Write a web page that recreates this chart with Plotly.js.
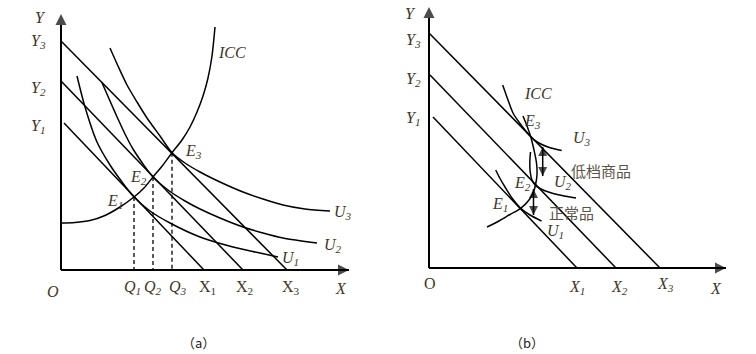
<!DOCTYPE html>
<html>
<head>
<meta charset="utf-8">
<script src="https://cdn.plot.ly/plotly-3.0.1.min.js"></script>
<style>html,body{margin:0;padding:0;background:#fff;}#chart{width:756px;height:354px;}</style>
</head>
<body>
<div id="chart"></div>
<script>
// ---------- Panel (a) data (picture coordinates) ----------
const aOrigin = [61, 270];
const aYAxisTop = [61, 14];
const aXAxisEnd = [349, 270];
const aBudget1X = [64, 204], aBudget1Y = [123, 270];
const aBudget2X = [61, 243], aBudget2Y = [81, 270];
const aBudget3X = [61, 287], aBudget3Y = [41, 270];
const aU1X = [77, 85, 97, 110, 122, 134, 150, 170, 200, 233, 260, 278];
const aU1Y = [76, 107, 142, 165, 182, 197, 211, 223, 237, 247, 253, 257];
const aU2X = [101.7, 110, 118, 126, 133, 143, 153, 168, 185, 200, 220, 243, 263, 283, 317];
const aU2Y = [82, 101, 119, 136, 149, 164, 177, 190, 201, 209, 218, 227, 233, 238, 243];
const aU3X = [110, 118, 127, 137, 147, 160, 172, 185, 200, 220, 243, 263, 283, 305, 330];
const aU3Y = [48, 66, 85, 102, 118, 136, 152.7, 163, 172, 182, 192, 199, 205, 209, 211];
const aIccX = [61, 75, 90, 105, 120, 134, 144, 153, 163, 172, 182, 190, 197, 203, 208, 212, 215];
const aIccY = [223, 222.5, 220.5, 215.5, 207, 197, 188, 177, 165, 152.7, 140, 127, 112, 96, 78, 56, 27];
const aEqX = [134, 153, 172];
const aEqY = [197, 177, 152.7];

// ---------- Panel (b) data ----------
const bOrigin = [429, 268];
const bYAxisTop = [429, 7];
const bXAxisEnd = [726, 268];
const bBudget1X = [433, 577], bBudget1Y = [117, 268];
const bBudget2X = [430, 616], bBudget2Y = [75, 268];
const bBudget3X = [429, 660], bBudget3Y = [33, 268];
const bU1X = [495.7, 500, 505, 512, 520.7, 530, 541.5];
const bU1Y = [170, 178.5, 187, 198, 208.3, 215, 221];
const bU2X = [530.5, 529.8, 530.2, 532, 535, 541, 550, 562, 576];
const bU2Y = [152, 162, 172, 180, 185, 189, 192.5, 195.5, 198];
const bU3X = [502.7, 508, 513, 520, 530.7, 538, 548, 561.7];
const bU3Y = [85, 100, 113, 123.5, 136.7, 142.5, 147, 150.5];
const bIccX = [487, 498, 510, 520.7, 529, 533.5, 535.5, 537, 536.5, 534, 530.7, 527, 523];
const bIccY = [227, 221.5, 214.5, 208.3, 200, 192, 185, 175, 163, 150, 136.7, 126, 116];
const bArrowUpperX = [542.7, 542.7], bArrowUpperY = [147, 176];
const bArrowLowerX = [533.5, 533.5], bArrowLowerY = [189, 215];

// ---------- Labels ----------
const aLabels = [
  ['Y', 40, 17, true], ['Y<sub>3</sub>', 38, 41, true], ['Y<sub>2</sub>', 38, 88, true], ['Y<sub>1</sub>', 38, 126, true],
  ['O', 53, 291, true], ['X', 341, 288, true],
  ['Q<sub>1</sub>', 132, 287, true], ['Q<sub>2</sub>', 153, 287, true], ['Q<sub>3</sub>', 178, 287, true],
  ['X<sub>1</sub>', 207, 287, false], ['X<sub>2</sub>', 244, 287, false], ['X<sub>3</sub>', 291, 287, false],
  ['ICC', 232, 52, true], ['E<sub>3</sub>', 193, 151, true], ['E<sub>2</sub>', 138, 177, true], ['E<sub>1</sub>', 115, 201, true],
  ['U<sub>3</sub>', 343, 212, true], ['U<sub>2</sub>', 333, 245, true], ['U<sub>1</sub>', 290, 258, true]
];
const bLabels = [
  ['Y', 410, 13, true], ['Y<sub>3</sub>', 413, 40, true], ['Y<sub>2</sub>', 413, 79, true], ['Y<sub>1</sub>', 413, 118, true],
  ['O', 430, 283, false], ['X', 716, 288, true],
  ['X<sub>1</sub>', 577, 287, true], ['X<sub>2</sub>', 619, 287, true], ['X<sub>3</sub>', 665, 284, true],
  ['ICC', 538, 93, true], ['E<sub>3</sub>', 532, 121, true], ['E<sub>2</sub>', 522, 183, true], ['E<sub>1</sub>', 500, 204, true],
  ['U<sub>3</sub>', 582, 138, true], ['U<sub>2</sub>', 563, 182, true], ['U<sub>1</sub>', 555, 231, true]
];
const cnLabels = [['低档商品', 601, 170], ['正常品', 571, 212]];
const captions = [['（a）', 198, 342], ['（b）', 527, 342]];

// ---------- Build traces ----------
const ink = '#000';
const serif = 'Liberation Serif, Times New Roman, serif';
function line(x, y, w, extra) {
  return Object.assign({type: 'scatter', mode: 'lines', x: x, y: y, hoverinfo: 'skip',
    line: {color: ink, width: w}}, extra || {});
}
function curve(x, y) {
  return line(x, y, 1.5, {line: {color: ink, width: 1.5, shape: 'spline', smoothing: 0.8}});
}
// line with arrow tip(s): marker drawn only at chosen ends
function arrowLine(x, y, w, symbols, sz) {
  return {type: 'scatter', mode: 'lines+markers', x: x, y: y, hoverinfo: 'skip',
    line: {color: ink, width: w},
    marker: {symbol: symbols, size: symbols.map(function (s) { return s ? sz : 0; }), color: ink, line: {width: 0}}};
}
const traces = [
  arrowLine([aOrigin[0], aYAxisTop[0]], [aOrigin[1], aYAxisTop[1]], 2, [null, 'arrow-up'], 11),
  arrowLine([aOrigin[0], aXAxisEnd[0]], [aOrigin[1], aXAxisEnd[1]], 2, [null, 'arrow-right'], 11),
  arrowLine([bOrigin[0], bYAxisTop[0]], [bOrigin[1], bYAxisTop[1]], 2, [null, 'arrow-up'], 11),
  arrowLine([bOrigin[0], bXAxisEnd[0]], [bOrigin[1], bXAxisEnd[1]], 2, [null, 'arrow-right'], 11),
  arrowLine(bArrowUpperX, bArrowUpperY, 1.5, ['arrow-up', 'arrow-down'], 9),
  arrowLine(bArrowLowerX, bArrowLowerY, 1.5, ['arrow-up', 'arrow-down'], 9),
  line(aBudget1X, aBudget1Y, 1.5), line(aBudget2X, aBudget2Y, 1.5), line(aBudget3X, aBudget3Y, 1.5),
  curve(aU1X, aU1Y), curve(aU2X, aU2Y), curve(aU3X, aU3Y), curve(aIccX, aIccY),
  line(bBudget1X, bBudget1Y, 1.5), line(bBudget2X, bBudget2Y, 1.5), line(bBudget3X, bBudget3Y, 1.5),
  curve(bU1X, bU1Y), curve(bU2X, bU2Y), curve(bU3X, bU3Y), curve(bIccX, bIccY)
];
aEqX.forEach(function (ex, i) {
  traces.push(line([ex, ex], [aEqY[i], aOrigin[1]], 1.3, {line: {color: ink, width: 1.3, dash: '4px,3px'}}));
});

const annotations = [];
const textColor = '#3f3729';
function label(t, x, y, italic, size, family, color) {
  annotations.push({text: t, x: x, y: y, xref: 'x', yref: 'y', showarrow: false, xanchor: 'center', yanchor: 'middle',
    font: {family: family || serif, size: size || 16, color: color || textColor,
      style: italic ? 'italic' : 'normal'}});
}
aLabels.concat(bLabels).forEach(function (l) { label(l[0], l[1], l[2], l[3]); });
cnLabels.forEach(function (l) { label(l[0], l[1], l[2], false, 15, 'Noto Sans CJK SC, sans-serif', '#5b5347'); });
captions.forEach(function (l) { label(l[0], l[1], l[2], false, 13, 'Noto Sans CJK SC, serif', '#222'); });

const layout = {
  width: 756, height: 354, margin: {l: 0, r: 0, t: 0, b: 0},
  paper_bgcolor: '#fff', plot_bgcolor: '#fff', showlegend: false,
  font: {family: serif},
  xaxis: {range: [0, 756], visible: false, fixedrange: true},
  yaxis: {range: [354, 0], visible: false, fixedrange: true},
  annotations: annotations
};
Plotly.newPlot('chart', traces, layout, {staticPlot: true, displayModeBar: false});
</script>
</body>
</html>
